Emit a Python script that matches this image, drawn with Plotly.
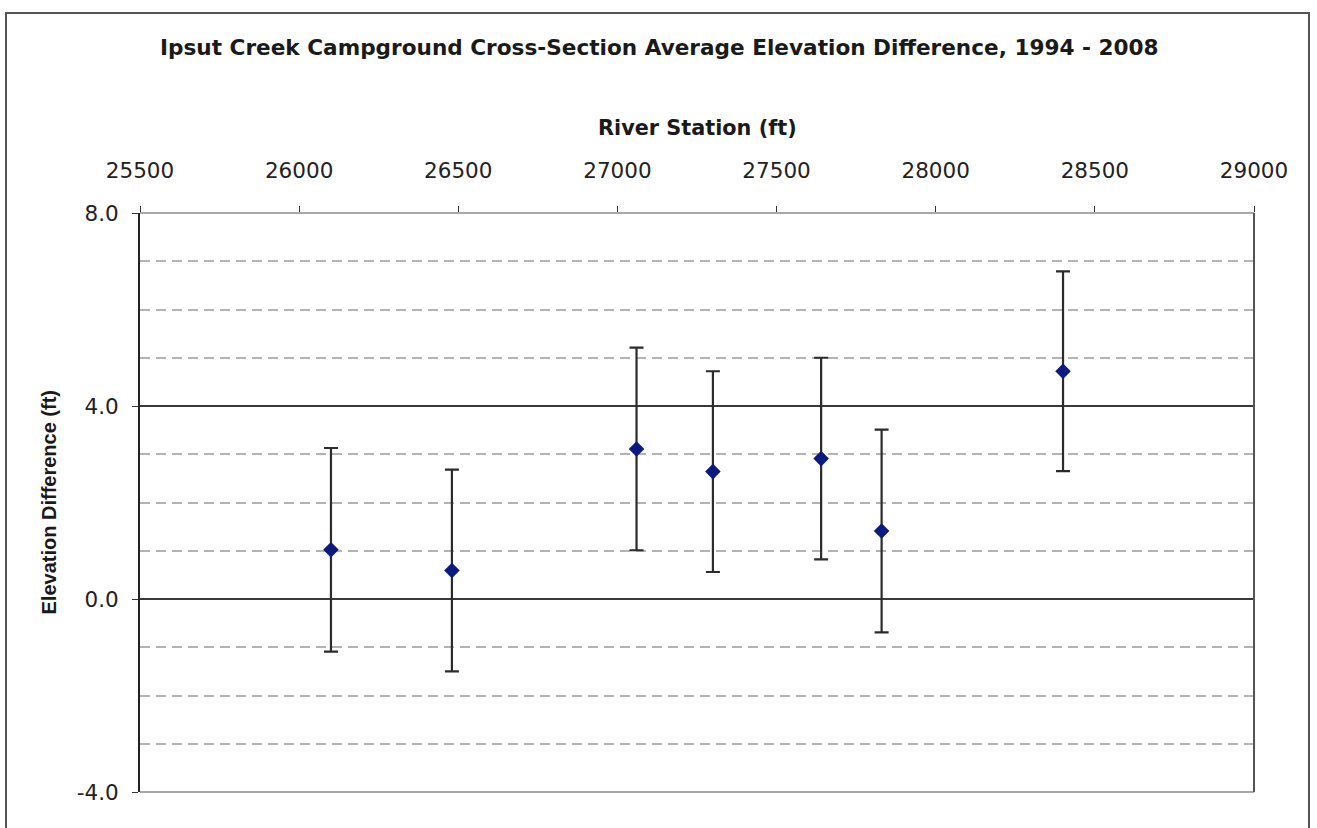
import plotly.graph_objects as go

# Cross-section survey results, Ipsut Creek Campground
station_ft = [26100, 26480, 27060, 27300, 27640, 27830, 28400]
avg_elev_diff_ft = [1.02, 0.59, 3.11, 2.64, 2.91, 1.41, 4.72]
uncertainty_ft = [2.11, 2.09, 2.10, 2.08, 2.09, 2.10, 2.07]

x_ticks = [25500, 26000, 26500, 27000, 27500, 28000, 28500, 29000]
y_ticks = [-4.0, 0.0, 4.0, 8.0]
y_tick_labels = ["-4.0", "0.0", "4.0", "8.0"]

chart_title = "Ipsut Creek Campground Cross-Section Average Elevation Difference, 1994 - 2008"
x_title = "River Station (ft)"
y_title = "Elevation Difference (ft)"

W, H = 1317, 828
L, R, T, B = 140, 63, 213, 36
plot_w = W - L - R
plot_h = H - T - B


def px_x(p):
    return (p - L) / plot_w


def px_y(p):
    return (H - B - p) / plot_h


wide_font = "DejaVu Sans"
tick_font = dict(family=wide_font, size=21.5, color="#222222")

fig = go.Figure()
fig.add_trace(
    go.Scatter(
        x=station_ft,
        y=avg_elev_diff_ft,
        mode="markers",
        marker=dict(symbol="diamond", size=12, color="#0b1a80"),
        error_y=dict(
            type="data",
            array=uncertainty_ft,
            visible=True,
            color="#2b2b2b",
            thickness=2.2,
            width=7,
        ),
        showlegend=False,
    )
)

fig.update_xaxes(
    side="top",
    range=[x_ticks[0], x_ticks[-1]],
    tickvals=x_ticks,
    ticktext=[str(v) for v in x_ticks],
    ticks="outside",
    ticklen=6,
    tickwidth=1,
    tickcolor="#333333",
    tickfont=tick_font,
    ticklabelstandoff=19,
    showgrid=False,
    zeroline=False,
    showline=False,
)

fig.update_yaxes(
    range=[y_ticks[0], y_ticks[-1]],
    tickvals=y_ticks,
    ticktext=y_tick_labels,
    ticks="outside",
    ticklen=6,
    tickwidth=1,
    tickcolor="#333333",
    tickfont=tick_font,
    ticklabelstandoff=9,
    showgrid=True,
    gridcolor="#3a3a3a",
    gridwidth=2,
    zeroline=False,
    showline=True,
    linecolor="#222222",
    linewidth=2,
    minor=dict(
        dtick=1,
        showgrid=True,
        gridcolor="#b4b4b4",
        gridwidth=2,
        griddash="10px,6px",
        ticks="",
    ),
)

# plot-area border: light top/bottom edges, darker right edge
fig.add_shape(type="line", xref="paper", yref="paper", x0=0, x1=1, y0=1, y1=1,
              line=dict(color="#a8a8a8", width=2), layer="above")
fig.add_shape(type="line", xref="paper", yref="paper", x0=0, x1=1, y0=0, y1=0,
              line=dict(color="#a8a8a8", width=2), layer="above")
fig.add_shape(type="line", xref="paper", yref="paper", x0=1, x1=1, y0=0, y1=1,
              line=dict(color="#555555", width=2), layer="above")

# outer chart frame
fig.add_shape(type="rect", xref="paper", yref="paper",
              x0=px_x(6), x1=px_x(1309), y0=px_y(850), y1=px_y(13),
              line=dict(color="#555555", width=2), layer="above")

fig.add_annotation(text=chart_title, xref="paper", yref="paper",
                   x=px_x(659), y=px_y(47), xanchor="center", yanchor="middle",
                   showarrow=False,
                   font=dict(family=wide_font, size=21.6, color="#1a1a1a", weight="bold"))
fig.add_annotation(text=x_title, xref="paper", yref="paper",
                   x=0.5, y=px_y(128), xanchor="center", yanchor="middle",
                   showarrow=False,
                   font=dict(family=wide_font, size=20.8, color="#1a1a1a", weight="bold"))
fig.add_annotation(text=y_title, xref="paper", yref="paper",
                   x=px_x(48), y=0.5, xanchor="center", yanchor="middle",
                   textangle=-90, showarrow=False,
                   font=dict(family="Liberation Sans", size=20, color="#1a1a1a", weight="bold"))

fig.update_layout(
    width=W,
    height=H,
    margin=dict(l=L, r=R, t=T, b=B, pad=0),
    paper_bgcolor="white",
    plot_bgcolor="white",
)

fig.write_html("out.html")
